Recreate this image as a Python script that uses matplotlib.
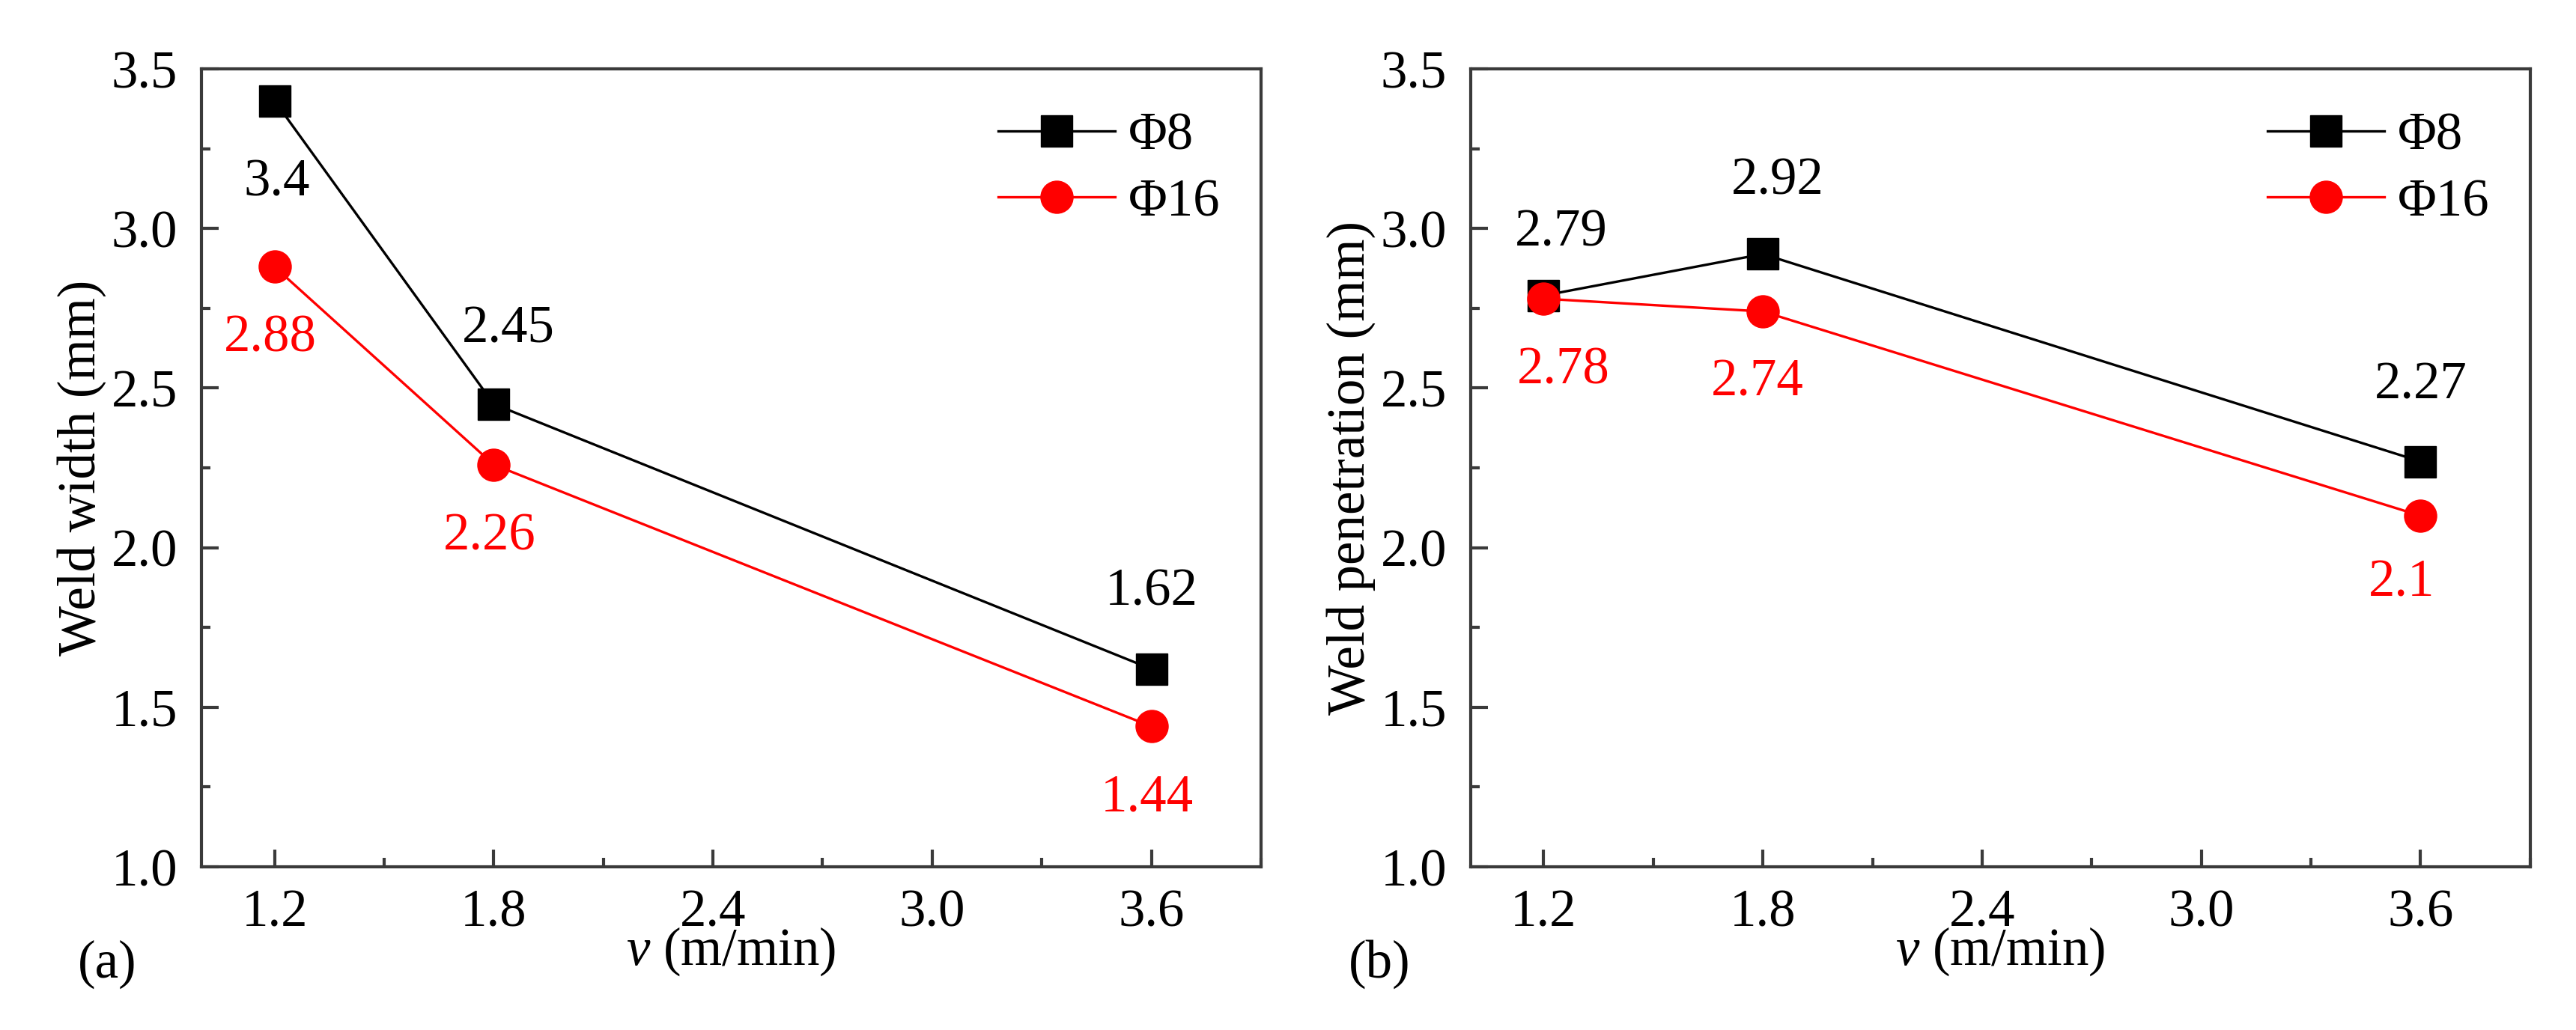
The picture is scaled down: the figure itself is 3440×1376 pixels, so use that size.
import matplotlib
matplotlib.use("Agg")
import matplotlib.pyplot as plt
from matplotlib.ticker import MultipleLocator, FormatStrFormatter

plt.rcParams['font.family'] = ['Liberation Serif', 'DejaVu Serif']
plt.rcParams['mathtext.fontset'] = 'custom'
plt.rcParams['mathtext.rm'] = 'Liberation Serif'
plt.rcParams['mathtext.it'] = 'Liberation Serif:italic'

# ---------------- data ----------------
speed = [1.2, 1.8, 3.6]                      # v (m/min)
width_phi8 = [3.4, 2.45, 1.62]               # weld width (mm)
width_phi16 = [2.88, 2.26, 1.44]
pen_phi8 = [2.79, 2.92, 2.27]                # weld penetration (mm)
pen_phi16 = [2.78, 2.74, 2.1]
series_labels = ['Φ8', 'Φ16']
panel_tags = ['(a)', '(b)']
ylabels = ['Weld width (mm)', 'Weld penetration (mm)']
xlabel = r'$\it{v}$ (m/min)'

# label offsets (points) for the value annotations  (style only)
off_a8 = [(1, -39.5), (7, 36), (0, 37)]
off_a16 = [(-2, -34.5), (-2, -34.5), (-2, -34.5)]
off_b8 = [(8.5, 30), (7, 35), (0, 36.5)]
off_b16 = [(9.5, -34.5), (-2.5, -34), (-9, -32.5)]

FS = 25.5
SPINE = '#3a3a3a'
RED = '#ff0000'

fig = plt.figure(figsize=(17.2, 6.88), dpi=200)
ax_a = fig.add_axes([0.0782, 0.1584, 0.4113, 0.7747])
ax_b = fig.add_axes([0.5709, 0.1584, 0.4113, 0.7747])


def style_axes(ax, ylabel):
    ax.set_xlim(1.0, 3.9)
    ax.set_ylim(1.0, 3.5)
    ax.xaxis.set_major_locator(MultipleLocator(0.6))
    ax.xaxis.set_minor_locator(MultipleLocator(0.3))
    ax.yaxis.set_major_locator(MultipleLocator(0.5))
    ax.yaxis.set_minor_locator(MultipleLocator(0.25))
    ax.xaxis.set_major_formatter(FormatStrFormatter('%.1f'))
    ax.yaxis.set_major_formatter(FormatStrFormatter('%.1f'))
    ax.set_xticks([1.2, 1.8, 2.4, 3.0, 3.6])
    for s in ax.spines.values():
        s.set_linewidth(1.5)
        s.set_color(SPINE)
    ax.tick_params(which='both', direction='in', top=False, right=False,
                   color=SPINE, width=1.5, labelsize=FS)
    ax.tick_params(which='major', length=8.3)
    ax.tick_params(which='minor', length=4.3)
    ax.tick_params(axis='x', which='major', pad=10.5)
    ax.tick_params(axis='y', which='major', pad=11.5)
    ax.set_xlabel(xlabel, fontsize=FS)
    ax.xaxis.label.set_verticalalignment('center')
    ax.xaxis.set_label_coords(0.5, -0.106)
    ax.set_ylabel(ylabel, fontsize=FS)
    ax.yaxis.label.set_verticalalignment('center')
    ax.yaxis.set_label_coords(-0.113, 0.5)


def plot_panel(ax, y8, y16, off8, off16, ylabel):
    l8, = ax.plot(speed, y8, color='black', lw=1.2, marker='s', ms=15,
                  mfc='black', mec='black', mew=0.5, label=series_labels[0],
                  zorder=3)
    l16, = ax.plot(speed, y16, color=RED, lw=1.2, marker='o', ms=15.5,
                   mfc=RED, mec=RED, mew=0.5, label=series_labels[1],
                   zorder=4)
    for x, v, o in zip(speed, y8, off8):
        ax.annotate(f'{v:g}', (x, v), xytext=o, textcoords='offset points',
                    ha='center', va='center', fontsize=FS, color='black')
    for x, v, o in zip(speed, y16, off16):
        ax.annotate(f'{v:g}', (x, v), xytext=o, textcoords='offset points',
                    ha='center', va='center', fontsize=FS, color=RED)
    style_axes(ax, ylabel)
    ax.legend(handles=[l8, l16], loc='center left',
              bbox_to_anchor=(0.752, 0.874), frameon=False, fontsize=FS,
              handlelength=2.2, handletextpad=0.25, labelspacing=0.33,
              borderpad=0, borderaxespad=0, numpoints=1)


plot_panel(ax_a, width_phi8, width_phi16, off_a8, off_a16, ylabels[0])
plot_panel(ax_b, pen_phi8, pen_phi16, off_b8, off_b16, ylabels[1])

fig.text(143 / 3440, 1 - 1288 / 1376, panel_tags[0], fontsize=FS,
         ha='center', va='center')
fig.text(1842 / 3440, 1 - 1288 / 1376, panel_tags[1], fontsize=FS,
         ha='center', va='center')

fig.savefig('out.png', dpi=200, facecolor='white')
